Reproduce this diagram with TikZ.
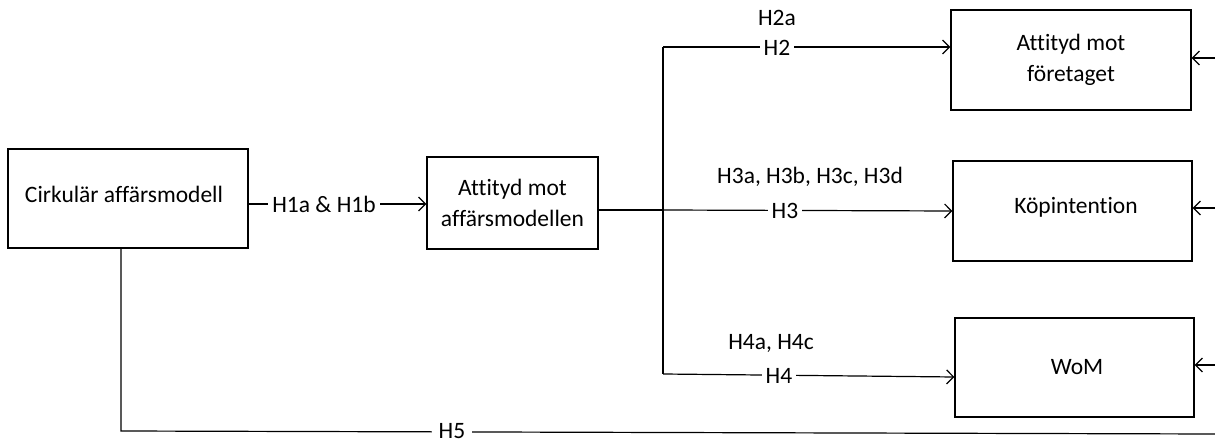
\documentclass[tikz,border=0pt]{standalone}
\usepackage{fontspec}
\setmainfont{Carlito}[Ligatures=NoCommon]
\usetikzlibrary{arrows.meta}
\begin{document}
\begin{tikzpicture}[x=1pt,y=-1pt,
  font=\fontsize{23.5}{31}\selectfont,
  boxn/.style={draw,line width=1.2pt,inner sep=0pt,align=center},
  conn/.style={line width=1.2pt},
  arr/.style={conn,-{Straight Barb[length=7pt,width=14pt,line width=1.2pt]}},
  lbl/.style={fill=white,inner xsep=4pt,inner ysep=0pt},
  plain/.style={inner sep=0pt}]
\useasboundingbox (0,0) rectangle (1215,443);
% boxes
\node[boxn,minimum width=240pt,minimum height=99pt] (A) at (128,198.5) {};
\node[plain] at (124,194) {Cirkulär affärsmodell};
\node[boxn,minimum width=171pt,minimum height=92pt] (B) at (512.5,203) {Attityd mot\\affärsmodellen};
\node[boxn,minimum width=240pt,minimum height=100pt] (C) at (1071,60) {Attityd mot\\företaget};
\node[boxn,minimum width=239pt,minimum height=100pt] (D) at (1072.5,211) {};
\node[plain] at (1076,207) {Köpintention};
\node[boxn,minimum width=239pt,minimum height=99pt] (E) at (1074.5,367.5) {};
\node[plain] at (1077,367) {WoM};
% coordinates
\coordinate (split) at (663,210);
\coordinate (top) at (663,47);
\coordinate (bot) at (663,374);
\coordinate (a5) at (121,248);
\coordinate (c5) at (121,431);
\coordinate (e5) at (1215,434);
\coordinate (rc) at (1215,58);
\coordinate (rd) at (1215,208);
\coordinate (re) at (1215,365);
% H1
\draw[arr] (A.east |- 0,204) -- (B.west |- 0,204);
\node[lbl] at (324,204) {H1a \& H1b};
% split
\draw[conn] (B.east |- 0,210) -- (split);
\draw[conn] (top) -- (bot);
\draw[arr] (top) -- (C.west |- top);
\node[lbl] at (777,48) {H2};
\node[plain] at (777,18) {H2a};
\draw[arr] (split) -- (D.west |- 0,211);
\node[lbl] at (785,211) {H3};
\node[plain] at (810,177) {H3a, H3b, H3c, H3d};
\draw[arr] (bot) -- (E.west |- 0,377);
\node[lbl] at (779,376) {H4};
\node[plain] at (771,343) {H4a, H4c};
% H5
\draw[conn] (a5) -- (c5) -- (e5);
\node[lbl,inner xsep=7pt] at (452,431) {H5};
% right arrows
\draw[arr] (rc) -- (C.east |- rc);
\draw[arr] (rd) -- (D.east |- rd);
\draw[arr] (re) -- (E.east |- re);
\end{tikzpicture}
\end{document}
